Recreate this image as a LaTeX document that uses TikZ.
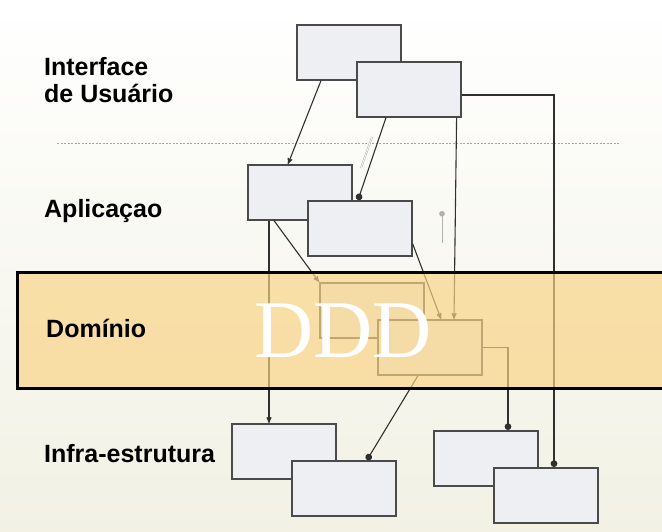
\documentclass[tikz,border=0pt]{standalone}
\usepackage{fontspec}
\setmainfont{Liberation Sans}
\newfontfamily\dddfont{Liberation Serif}
\usetikzlibrary{arrows}

\definecolor{boxfill}{HTML}{EEEFF2}
\definecolor{boxline}{HTML}{4A4A4A}
\definecolor{wirecol}{HTML}{303030}
\definecolor{bandfill}{HTML}{F9D484}
\definecolor{bgcream}{HTML}{F2F1E4}

\begin{document}
\begin{tikzpicture}[x=1pt,y=-1pt,>=stealth',
  layer box/.style={draw=boxline,fill=boxfill,line width=1.6pt,minimum width=104pt,
    minimum height=55pt,anchor=north west,inner sep=0pt},
  layer label/.style={anchor=base west,inner sep=0pt,align=left,
    font=\fontsize{25}{27}\selectfont\bfseries},
  wire/.style={draw=wirecol,line width=1.1pt}]
  \useasboundingbox (0,0) rectangle (662,532);
  \shade[top color=white,bottom color=bgcream] (0,0) rectangle (662,532);
  \draw[gray!70,line width=1pt,dash pattern=on 2pt off 1.5pt] (57,144) -- (620,144);

  % boxes, back to front
  \node[layer box] (ui1) at (296,24) {};
  \node[layer box] (ui2) at (356,61) {};
  \node[layer box] (app1) at (247,164) {};
  \node[layer box] (app2) at (307,200) {};
  \node[layer box] (dom1) at (319,282) {};
  \node[layer box] (dom2) at (377,319) {};
  \node[layer box] (inf1) at (231,423) {};
  \node[layer box] (inf2) at (291,460) {};
  \node[layer box] (inf3) at (433,430) {};
  \node[layer box] (inf4) at (493,467) {};

  % links
  \draw[wire,->] ([xshift=25pt]ui1.south west) -- ([xshift=41pt]app1.north west);
  \draw[wire,-*] ([xshift=30pt]ui2.south west) -- ([xshift=51pt]app2.north west);
  \draw[wire,->] ([xshift=-5pt]ui2.south east) -- ([xshift=77pt]dom2.north west);
  \draw[wire,-*] ([yshift=-34pt]ui2.north east) -| ([xshift=61pt]inf4.north west);
  \draw[wire,->] ([xshift=22pt]app1.south west) -- ([xshift=22pt]app1.south west |- inf1.north);
  \draw[wire,->] ([xshift=27pt]app1.south west) -- (dom1.north west);
  \draw[wire,->] ([yshift=13pt]app2.south east) -- ([xshift=64pt]dom2.north west);
  \draw[wire,-*] (dom2.east) -| ([xshift=75pt]inf3.north west);
  \draw[wire,-*] ([xshift=41pt]dom2.south west) -- ([xshift=76pt]inf2.north west);

  % faint direction marks
  \coordinate (markA) at (372,137);
  \coordinate (markB) at (361,168);
  \coordinate (markC) at (442,211);
  \coordinate (markD) at (442,243);
  \draw[gray!60,line width=0.5pt,double=white,double distance=0.8pt] (markA) -- (markB);
  \draw[gray!60,line width=0.7pt,*-] (markC) -- (markD);

  % domain band
  \fill[bandfill,fill opacity=0.68] (17,272) rectangle (670,388);
  \draw[black,line width=3pt] (17,272) rectangle (670,388);

  % labels
  \node[layer label] (uilabel) at (44,103) {Interface\\de Usuário};
  \node[layer label] (applabel) at (44,218) {Aplicaçao};
  \node[layer label] (domlabel) at (46,337) {Domínio};
  \node[layer label] (inflabel) at (44,462) {Infra-estrutura};
  \node[anchor=base,inner sep=0pt,text=white,font=\dddfont\fontsize{82}{82}\selectfont]
    (ddd) at (343,357) {DDD};
\end{tikzpicture}
\end{document}
